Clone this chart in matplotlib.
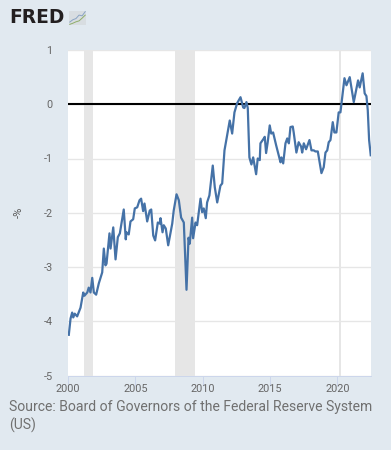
import matplotlib
matplotlib.use('Agg')
import matplotlib.pyplot as plt

years = [2000.06, 2000.19, 2000.31, 2000.39, 2000.50, 2000.68, 2000.93, 2001.13, 2001.22, 2001.43,
         2001.54, 2001.67, 2001.80, 2001.92, 2002.09, 2002.29, 2002.54, 2002.66, 2002.78, 2002.86,
         2003.08, 2003.16, 2003.36, 2003.53, 2003.70, 2003.85, 2004.14, 2004.29, 2004.34, 2004.51,
         2004.64, 2004.84, 2004.96, 2005.14, 2005.31, 2005.43, 2005.58, 2005.68, 2005.88, 2006.07,
         2006.18, 2006.33, 2006.47, 2006.67, 2006.81, 2006.87, 2007.02, 2007.11, 2007.26, 2007.44,
         2007.74, 2007.85, 2008.06, 2008.23, 2008.40, 2008.60, 2008.80, 2008.95, 2009.04, 2009.22,
         2009.29, 2009.47, 2009.59, 2009.84, 2009.96, 2010.08, 2010.23, 2010.33, 2010.50, 2010.63,
         2010.75, 2010.90, 2011.08, 2011.32, 2011.45, 2011.62, 2011.82, 2012.01, 2012.19, 2012.36,
         2012.56, 2012.81, 2013.01, 2013.10, 2013.25, 2013.35, 2013.47, 2013.62, 2013.75, 2013.97,
         2014.09, 2014.24, 2014.29, 2014.54, 2014.61, 2014.71, 2014.83, 2014.98, 2015.09, 2015.23,
         2015.46, 2015.65, 2015.78, 2015.85, 2015.98, 2016.15, 2016.28, 2016.40, 2016.52, 2016.69,
         2016.76, 2016.96, 2017.13, 2017.31, 2017.39, 2017.51, 2017.68, 2017.93, 2018.08, 2018.25,
         2018.37, 2018.55, 2018.75, 2018.82, 2018.99, 2019.12, 2019.25, 2019.36, 2019.49, 2019.66,
         2019.78, 2019.93, 2020.10, 2020.23, 2020.36, 2020.53, 2020.68, 2020.92, 2021.22, 2021.54,
         2021.66, 2021.88, 2022.03, 2022.16, 2022.26, 2022.36, 2022.48]
values = [-4.25, -3.95, -3.84, -3.93, -3.86, -3.91, -3.75, -3.47, -3.53, -3.47,
          -3.38, -3.47, -3.20, -3.47, -3.51, -3.30, -3.10, -2.66, -2.97, -2.94,
          -2.38, -2.66, -2.27, -2.86, -2.45, -2.38, -1.94, -2.49, -2.36, -2.40,
          -2.16, -2.12, -1.92, -1.90, -1.77, -1.74, -1.97, -1.83, -2.16, -1.96,
          -1.94, -2.42, -2.51, -2.18, -2.20, -2.10, -2.36, -2.23, -2.29, -2.60,
          -2.20, -1.96, -1.66, -1.77, -2.09, -2.18, -3.42, -2.46, -2.57, -2.09,
          -2.47, -2.18, -2.23, -1.74, -1.99, -1.92, -2.10, -1.81, -1.68, -1.40,
          -1.13, -1.53, -1.81, -1.50, -1.46, -0.85, -0.57, -0.30, -0.54, -0.15,
          0.02, 0.13, -0.06, -0.07, 0.04, -0.07, -0.98, -1.11, -0.98, -1.29,
          -1.00, -1.03, -0.72, -0.63, -0.60, -0.90, -0.70, -0.39, -0.54, -0.52,
          -0.76, -0.94, -1.07, -0.98, -1.09, -0.72, -0.63, -0.72, -0.42, -0.41,
          -0.52, -0.89, -0.70, -0.78, -0.89, -0.72, -0.83, -0.66, -0.85, -0.85,
          -0.87, -0.87, -1.16, -1.27, -1.16, -0.89, -0.85, -0.70, -0.66, -0.33,
          -0.52, -0.52, -0.15, -0.15, 0.13, 0.48, 0.35, 0.50, 0.04, 0.44,
          0.31, 0.57, 0.20, 0.15, -0.11, -0.66, -0.94]

recessions = [(2001.17, 2001.84), (2007.93, 2009.44), (2020.13, 2020.28)]
x_ticks = [2000, 2005, 2010, 2015, 2020]
y_ticks = [-5, -4, -3, -2, -1, 0, 1]

bg = '#e1e9f0'
plt.rcParams['font.family'] = ['Roboto', 'DejaVu Sans']

fig = plt.figure(figsize=(3.91, 4.5), dpi=100, facecolor=bg)
ax = fig.add_axes([68 / 391, 1 - 375.5 / 450, 303 / 391, 325.5 / 450])

for start, end in recessions:
    ax.axvspan(start, end, color='#e6e6e6', lw=0, zorder=1)
ax.grid(axis='y', color='#e6e6e6', lw=1, zorder=0)
ax.set_axisbelow(True)
ax.axhline(0, color='black', lw=1.5, zorder=2)
ax.plot(years, values, color='#4572a7', lw=1.6, zorder=3)

ax.set_xlim(2000, 2022.5)
ax.set_ylim(-5, 1)
ax.set_xticks(x_ticks)
ax.set_yticks(y_ticks)
ax.set_yticklabels(['-5', '-4', '-3', '-2', '-1', '0', '1'])
ax.tick_params(axis='x', length=7, width=0.7, color='#ccd6eb', labelsize=7.8, labelcolor='#666666', pad=-1)
ax.tick_params(axis='y', length=0, labelsize=7.8, labelcolor='#666666', pad=11)
for s in ['top', 'right', 'left']:
    ax.spines[s].set_visible(False)
ax.spines['bottom'].set_color('#ccd6eb')
ax.spines['bottom'].set_linewidth(0.7)

fig.text(19 / 391, 1 - 212 / 450, '-%', rotation=90, ha='center', va='center', fontsize=8, color='#555555')
fig.text(9 / 391, 1 - 416.5 / 450, 'Source: Board of Governors of the Federal Reserve System\n(US)',
         ha='left', va='center', fontsize=10.07, color='#707070', linespacing=1.25)
fig.text(9.5 / 391, 1 - 17.5 / 450, 'FRED', ha='left', va='center', fontsize=13.4,
         family='DejaVu Sans', fontweight='bold', color='#231f20')

# small logo chart next to the FRED text
logo = fig.add_axes([69 / 391, 1 - 25 / 450, 17 / 391, 14 / 450], facecolor='#d8dde1')
logo.plot([0, 1, 2, 3, 4, 5], [1.5, 2.5, 3, 4.5, 4.2, 6], color='#8aa4c4', lw=0.7)
logo.plot([0, 1, 2, 3, 4, 5], [0.5, 1, 1.6, 2, 3.2, 4.5], color='#8fae6a', lw=0.7)
logo.set_xticks([])
logo.set_yticks([])
for s in logo.spines.values():
    s.set_visible(False)

fig.savefig('out.png', dpi=100, facecolor=bg)
